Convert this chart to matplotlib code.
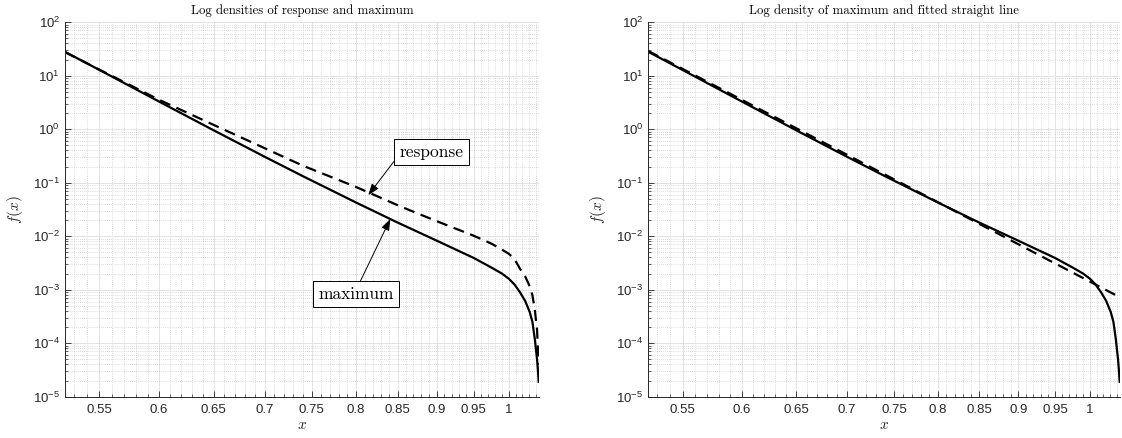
"""Log densities of response and maximum, with a straight-line fit to the
maximum density (log-log axes, MATLAB-like styling)."""

import matplotlib.pyplot as plt
from matplotlib.ticker import FixedLocator, NullFormatter, LogFormatterSciNotation

plt.rcParams["font.family"] = "Liberation Sans"
plt.rcParams["mathtext.fontset"] = "custom"
plt.rcParams["mathtext.rm"] = "Liberation Sans"
plt.rcParams["mathtext.it"] = "Liberation Sans:italic"

# density of the maximum
x_max = [0.523, 0.55, 0.6, 0.65, 0.7, 0.74, 0.8, 0.85, 0.9, 0.95, 0.975, 0.99,
         1.0, 1.008, 1.016, 1.024, 1.031, 1.035, 1.0386, 1.042, 1.0435, 1.0445]
f_max = [28.0, 12.8, 3.29, 0.950, 0.306, 0.133, 0.0426, 0.0180, 0.00826, 0.00392,
         0.00259, 0.0020, 0.0016, 0.00126, 9.1e-4, 6.2e-4, 3.8e-4, 2.5e-4,
         1.2e-4, 5.0e-5, 3.0e-5, 1.9e-5]

# density of the response
x_resp = [0.523, 0.55, 0.6, 0.65, 0.7, 0.74, 0.8, 0.853, 0.9, 0.95, 0.975, 0.99,
          1.0, 1.008, 1.016, 1.024, 1.031, 1.035, 1.0386, 1.042, 1.0445]
f_resp = [27.5, 13.0, 3.55, 1.20, 0.442, 0.209, 0.0832, 0.0363, 0.0191, 0.0102,
          0.00724, 0.00562, 0.00468, 0.0038, 0.00251, 0.00178, 0.00115, 7.9e-4,
          4.2e-4, 1.8e-4, 4.0e-5]

# fitted straight line (end points)
x_fit = [0.523, 1.045]
f_fit = [29.0, 7.2e-4]

x_ticks = [0.55, 0.6, 0.65, 0.7, 0.75, 0.8, 0.85, 0.9, 0.95, 1.0]
x_tick_labels = ["0.55", "0.6", "0.65", "0.7", "0.75", "0.8", "0.85", "0.9", "0.95", "1"]
x_minor = [round(0.53 + 0.01 * i, 2) for i in range(52)]
y_ticks = [1e-5, 1e-4, 1e-3, 1e-2, 1e-1, 1e0, 1e1, 1e2]
y_minor = [m * 10.0 ** e for e in range(-5, 2) for m in range(2, 10)]
XLIM = (0.523, 1.045)
YLIM = (1e-5, 1e2)

TXT = "#262626"


def style_axes(ax, title):
    ax.set_xscale("log")
    ax.set_yscale("log")
    ax.set_xlim(*XLIM)
    ax.set_ylim(*YLIM)
    ax.xaxis.set_major_locator(FixedLocator(x_ticks))
    ax.set_xticklabels(x_tick_labels)
    ax.xaxis.set_minor_locator(FixedLocator(x_minor))
    ax.xaxis.set_minor_formatter(NullFormatter())
    ax.yaxis.set_major_locator(FixedLocator(y_ticks))
    ax.yaxis.set_major_formatter(LogFormatterSciNotation())
    ax.yaxis.set_minor_locator(FixedLocator(y_minor))
    ax.yaxis.set_minor_formatter(NullFormatter())
    ax.tick_params(which="both", direction="in", colors=TXT, labelsize=9.5,
                   top=False, right=False)
    ax.tick_params(which="major", length=4, width=0.6)
    ax.tick_params(which="minor", length=2, width=0.5)
    ax.tick_params(axis="x", pad=5)
    for side in ("top", "right"):
        ax.spines[side].set_visible(False)
    for side in ("left", "bottom"):
        ax.spines[side].set_color(TXT)
        ax.spines[side].set_linewidth(0.7)
    ax.grid(True, which="major", color="#dedede", linewidth=0.6, linestyle="-")
    ax.grid(True, which="minor", color="#bdbdbd", linewidth=0.5, linestyle=(0, (1, 2)))
    ax.set_axisbelow(True)
    ax.set_title(title, fontfamily="cmr10", fontsize=9.2, color="black", pad=6)
    ax.set_xlabel("$x$", math_fontfamily="cm", fontsize=11, color=TXT, labelpad=2)
    ax.set_ylabel("$f(x)$", math_fontfamily="cm", fontsize=11, color=TXT, labelpad=6)


fig = plt.figure(figsize=(11.22, 4.38), dpi=100)
ax1 = fig.add_axes([0.0579, 0.0943, 0.4225, 0.855])
ax2 = fig.add_axes([0.5778, 0.0943, 0.4204, 0.855])

ax1.plot(x_max, f_max, color="black", linewidth=1.6)
ax1.plot(x_resp, f_resp, color="black", linewidth=1.6, linestyle=(0, (5, 3)))
style_axes(ax1, "Log densities of response and maximum")

arrow = dict(arrowstyle="-|>,head_length=0.55,head_width=0.2", color="black",
             linewidth=0.7, shrinkA=0, shrinkB=0)
box = dict(boxstyle="square,pad=0.3", facecolor="white", edgecolor="black", linewidth=0.7)
ax1.annotate("response", xy=(0.8144, 0.0585), xytext=(0.893, 0.375),
             fontfamily="cmr10", fontsize=12.5, ha="center", va="center",
             bbox=box, arrowprops=dict(arrow, relpos=(0.0, 0.35)))
ax1.annotate("maximum", xy=(0.841, 0.021), xytext=(0.8004, 8.3e-4),
             fontfamily="cmr10", fontsize=12.5, ha="center", va="center",
             bbox=box, arrowprops=dict(arrow, relpos=(0.52, 1.0)))

ax2.plot(x_max, f_max, color="black", linewidth=1.6)
ax2.plot(x_fit, f_fit, color="black", linewidth=1.6, linestyle=(0, (5, 3)))
style_axes(ax2, "Log density of maximum and fitted straight line")

fig.savefig("out.png", dpi=100)
